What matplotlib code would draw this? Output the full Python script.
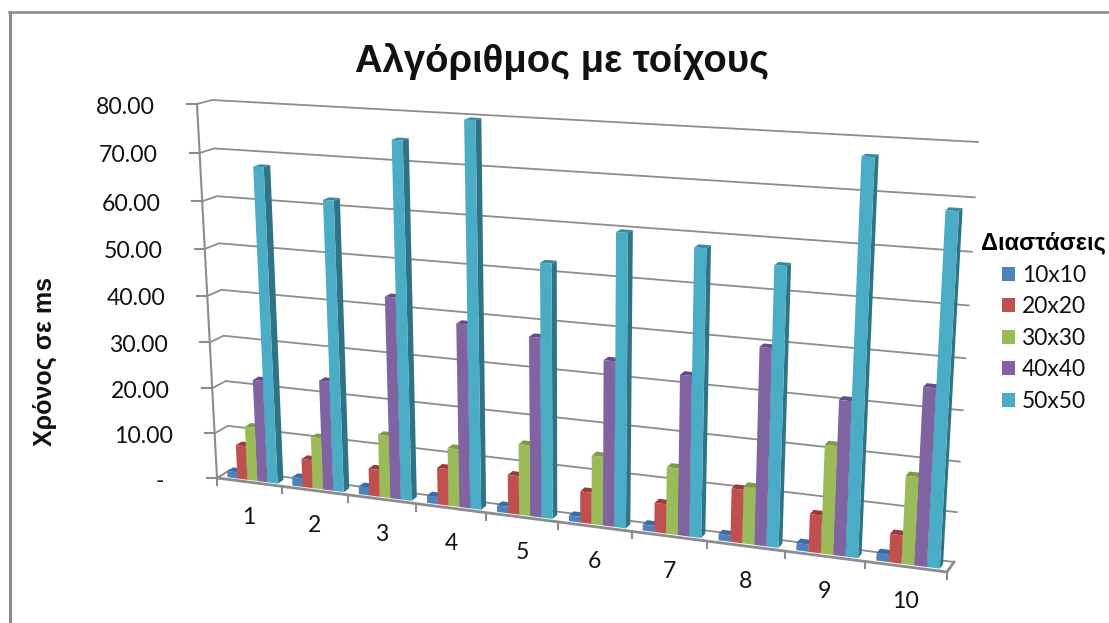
import numpy as np
import matplotlib
matplotlib.use("Agg")
import matplotlib.pyplot as plt
from matplotlib.patches import Polygon, Patch

# Χρόνοι εκτέλεσης (ms) ανά διάσταση λαβυρίνθου
categories = ["1", "2", "3", "4", "5", "6", "7", "8", "9", "10"]
series_names = ["10x10", "20x20", "30x30", "40x40", "50x50"]
t_10 = [1.4, 1.9, 1.7, 1.6, 1.4, 1.2, 1.3, 1.3, 1.5, 1.5]
t_20 = [7.5, 6.2, 5.9, 7.9, 8.2, 6.6, 6.1, 11.0, 7.7, 5.7]
t_30 = [11.9, 11.3, 13.5, 12.4, 15.0, 14.4, 13.8, 11.7, 21.9, 17.6]
t_40 = [22.4, 23.8, 43.0, 38.8, 37.5, 34.2, 32.8, 39.8, 31.0, 35.1]
t_50 = [67.7, 61.9, 74.9, 79.7, 52.6, 59.8, 58.0, 55.8, 77.1, 68.3]
y_ticks = [0, 10, 20, 30, 40, 50, 60, 70, 80]

faces = ["#4F81BD", "#C0504D", "#9BBB59", "#8064A2", "#4BACC6"]
sides = ["#2F5F96", "#8F3431", "#71893B", "#5A4479", "#2F7387"]
caps = ["#3A6CA8", "#9E3B38", "#7F9A45", "#644D85", "#3A8AA0"]
grid_col = "#8C8C8C"
num_font = ["Lato", "Noto Sans"]
bold_font = "Liberation Sans"


def homography(src, dst):
    a, b = [], []
    for (x, y), (u, v) in zip(src, dst):
        a.append([x, y, 1, 0, 0, 0, -u * x, -u * y])
        a.append([0, 0, 0, x, y, 1, -v * x, -v * y])
        b += [u, v]
    return np.append(np.linalg.solve(np.array(a, float), np.array(b, float)), 1).reshape(3, 3)


box = [(0, 0), (10, 0), (10, 80), (0, 80)]
H_front = homography(box, [(217, 478), (947, 572), (970, 148), (197, 104)])
H_back = homography(box, [(230, 470), (954, 562), (978, 142), (212, 100)])


def proj(x, y, z=0.0):
    # z: 0 μπροστινό επίπεδο, 1 πίσω τοίχος
    p = np.array([x, y, 1.0])
    f = H_front @ p
    b = H_back @ p
    return (1 - z) * f[:2] / f[2] + z * b[:2] / b[2]


fig = plt.figure(figsize=(11.09, 6.23), dpi=100)
ax = fig.add_axes([0, 0, 1, 1])
ax.set_xlim(0, 1109)
ax.set_ylim(623, 0)
ax.axis("off")

# περίγραμμα γραφήματος
ax.plot([9.5, 9.5], [12, 623], color="#8A8A8A", lw=2.2)
ax.plot([8.5, 1109], [12, 12], color="#8A8A8A", lw=1.8)

# γραμμές πλέγματος και υποδιαιρέσεις άξονα y
for v in y_ticks:
    pts = [proj(0, v, 0), proj(0, v, 1), proj(10, v, 1)]
    ax.plot(*zip(*pts), color=grid_col, lw=1.3, zorder=1)
    p = proj(0, v, 0)
    ax.plot([p[0] - 10, p[0]], [p[1], p[1]], color=grid_col, lw=1.5, zorder=1)
    lab = "-" if v == 0 else f"{v:.2f}"
    ax.text(p[0] - 42 if v else p[0] - 53, p[1] + 3, lab, ha="right", va="center", fontsize=16.6,
            family=num_font, color="#111111")

# άξονας y, δάπεδο και κατηγορίες
ax.plot(*zip(proj(0, 0, 0), proj(0, 80, 0)), color=grid_col, lw=1.5, zorder=1)
floor = [proj(0, 0, 0), proj(10, 0, 0), proj(10, 0, 1)]
ax.plot(*zip(*floor), color=grid_col, lw=2.0, zorder=1)
ax.plot(*zip(proj(0, 0, 0), proj(0, 0, 1)), color=grid_col, lw=1.0, zorder=1)
for i in range(11):
    p = proj(i, 0, 0)
    ax.plot([p[0], p[0]], [p[1], p[1] + 7], color=grid_col, lw=1.5, zorder=1)
for i, c in enumerate(categories):
    p = proj(i + 0.5, 0, 0)
    ax.text(p[0], p[1] + 35, c, ha="center", va="center", fontsize=16.6, family=num_font, color="#111111")

# ράβδοι: πλευρά, καπάκι, πρόσοψη, από αριστερά προς τα δεξιά
all_series = [t_10, t_20, t_30, t_40, t_50]
bar_w = 0.155
z0, z1 = 0.22, 0.68
for i in range(len(categories)):
    for s, vals in enumerate(all_series):
        v = vals[i]
        x0 = i + 0.12 + s * bar_w
        x1 = x0 + bar_w
        ax.add_patch(Polygon([proj(x1, 0, z0), proj(x1, 0, z1), proj(x1, v, z1), proj(x1, v, z0)],
                             fc=sides[s], ec="none", zorder=2))
        ax.add_patch(Polygon([proj(x0, v, z0), proj(x1, v, z0), proj(x1, v, z1), proj(x0, v, z1)],
                             fc=caps[s], ec="none", zorder=2))
        ax.add_patch(Polygon([proj(x0, 0, z0), proj(x1, 0, z0), proj(x1, v, z0), proj(x0, v, z0)],
                             fc=faces[s], ec="none", zorder=2))

ax.text(562, 61, "Αλγόριθμος με τοίχους", ha="center", va="center", fontsize=27.5, family=bold_font,
        weight="bold", color="#111111")
ax.text(45, 362, "Χρόνος σε ms", ha="center", va="center", rotation=90, fontsize=18, family=bold_font,
        weight="bold", color="#111111")

handles = [Patch(fc=c, ec="none", label=n) for c, n in zip(faces, series_names)]
leg = ax.legend(handles=handles, title="Διαστάσεις", loc="upper left", bbox_to_anchor=(961, 211),
                bbox_transform=ax.transData, frameon=False, handlelength=0.58, handleheight=0.58,
                labelspacing=0.46, handletextpad=0.32, prop={"family": num_font, "size": 16.4},
                title_fontproperties={"family": bold_font, "weight": "bold", "size": 17})
for t in leg.get_texts():
    t.set_color("#111111")

fig.savefig("out.png", dpi=100)
